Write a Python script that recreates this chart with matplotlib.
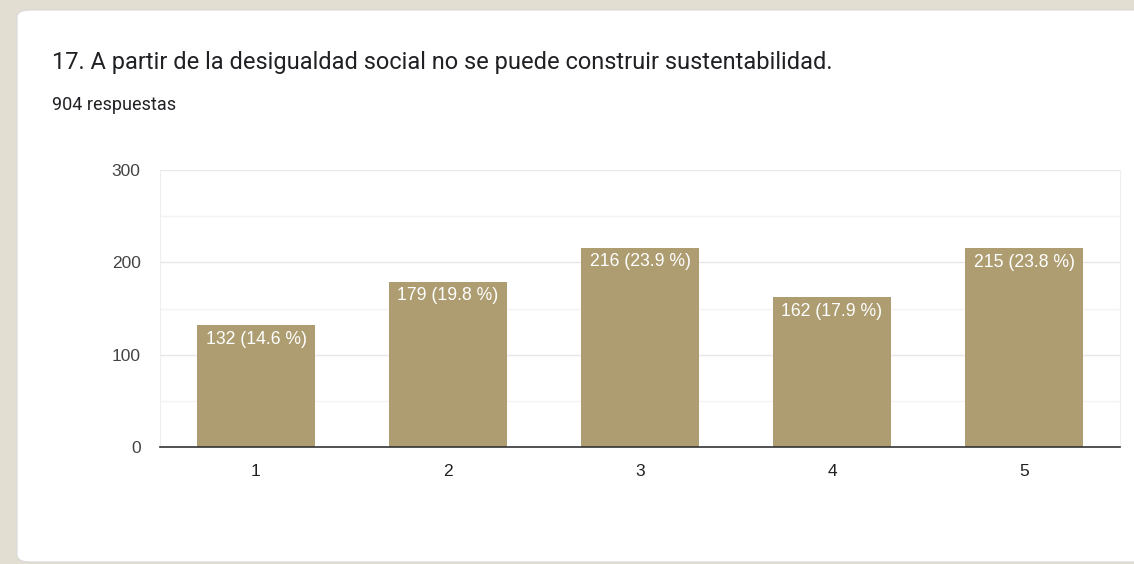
import matplotlib.pyplot as plt
from matplotlib.patches import FancyBboxPatch

# Survey answers on a 1-5 scale
categories = ['1', '2', '3', '4', '5']
counts = [132, 179, 216, 162, 215]
percents = [14.6, 19.8, 23.9, 17.9, 23.8]
yticks = [0, 100, 200, 300]

title = '17. A partir de la desigualdad social no se puede construir sustentabilidad.'
subtitle = '904 respuestas'

bar_color = '#ad9d71'
page_color = '#e3ded2'
text_color = '#202124'
tick_color = '#444444'

fig = plt.figure(figsize=(11.34, 5.64), dpi=100)
fig.patch.set_facecolor(page_color)

# White card behind the chart
card = FancyBboxPatch((17 / 1134, 2 / 564), 1140 / 1134, 552 / 564,
                      boxstyle='round,pad=0,rounding_size=0.012',
                      transform=fig.transFigure, facecolor='white',
                      edgecolor='#d8d8d8', linewidth=0.8, zorder=-5)
fig.patches.append(card)

fig.text(52 / 1134, 1 - 63 / 564, title, fontsize=17, family='Roboto',
         color=text_color, va='center', ha='left')
fig.text(52 / 1134, 1 - 105 / 564, subtitle, fontsize=13, family='Roboto',
         color=text_color, va='center', ha='left')

ax = fig.add_axes([160 / 1134, 117 / 564, 960 / 1134, 277 / 564])
ax.set_facecolor('none')

x = range(len(categories))
bars = ax.bar(x, counts, width=0.615, color=bar_color, zorder=2)

for rect, n, p in zip(bars, counts, percents):
    ax.annotate(f'{n} ({p} %)', (rect.get_x() + rect.get_width() / 2, n),
                xytext=(0, -4), textcoords='offset points',
                ha='center', va='top', color='white',
                fontsize=12.7, family='Liberation Sans', zorder=3)

ax.set_xlim(-0.5, len(categories) - 0.5)
ax.set_ylim(0, 300)
ax.set_yticks(yticks)
ax.set_yticks([50, 150, 250], minor=True)
ax.set_xticks(list(x))
ax.set_xticklabels(categories)

ax.grid(axis='y', which='major', color='#e8e8e8', linewidth=1, zorder=0)
ax.grid(axis='y', which='minor', color='#f3f3f3', linewidth=1, zorder=0)

ax.spines['top'].set_visible(False)
for side in ['left', 'right']:
    ax.spines[side].set_color('#eeeeee')
ax.spines['bottom'].set_color('#333333')
ax.spines['bottom'].set_linewidth(1.2)
ax.spines['bottom'].set_zorder(4)

ax.tick_params(axis='both', which='both', length=0)
ax.tick_params(axis='y', pad=14, labelsize=12.5, labelcolor=tick_color)
ax.tick_params(axis='x', pad=12, labelsize=12.5, labelcolor=text_color)
for lab in ax.get_xticklabels() + ax.get_yticklabels():
    lab.set_family('Liberation Sans')

fig.savefig('out.png', dpi=100, facecolor=fig.get_facecolor())
